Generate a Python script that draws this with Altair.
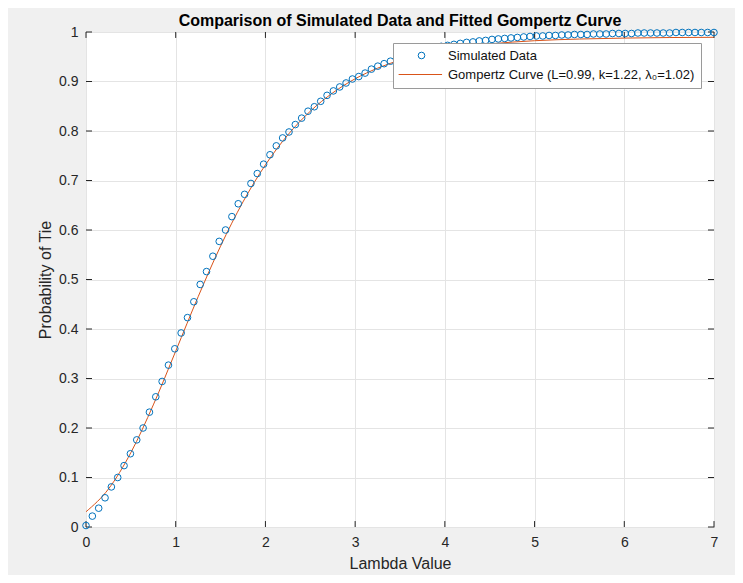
import altair as alt
import pandas as pd

# ---- data ----
lam_sim = [
    0.0, 0.0707, 0.1414, 0.2121, 0.2828, 0.3535, 0.4242, 0.4949, 0.5657, 0.6364,
    0.7071, 0.7778, 0.8485, 0.9192, 0.9899, 1.0606, 1.1313, 1.2020, 1.2727, 1.3434,
    1.4141, 1.4848, 1.5556, 1.6263, 1.6970, 1.7677, 1.8384, 1.9091, 1.9798, 2.0505,
    2.1212, 2.1919, 2.2626, 2.3333, 2.4040, 2.4747, 2.5455, 2.6162, 2.6869, 2.7576,
    2.8283, 2.8990, 2.9697, 3.0404, 3.1111, 3.1818, 3.2525, 3.3232, 3.3939, 3.4646,
    3.5354, 3.6061, 3.6768, 3.7475, 3.8182, 3.8889, 3.9596, 4.0303, 4.1010, 4.1717,
    4.2424, 4.3131, 4.3838, 4.4545, 4.5253, 4.5960, 4.6667, 4.7374, 4.8081, 4.8788,
    4.9495, 5.0202, 5.0909, 5.1616, 5.2323, 5.3030, 5.3737, 5.4444, 5.5152, 5.5859,
    5.6566, 5.7273, 5.7980, 5.8687, 5.9394, 6.0101, 6.0808, 6.1515, 6.2222, 6.2929,
    6.3636, 6.4343, 6.5051, 6.5758, 6.6465, 6.7172, 6.7879, 6.8586, 6.9293, 7.0,
]
p_sim = [
    0.003, 0.022, 0.038, 0.059, 0.081, 0.100, 0.124, 0.148, 0.176, 0.200,
    0.232, 0.263, 0.294, 0.327, 0.360, 0.392, 0.423, 0.455, 0.490, 0.516,
    0.547, 0.577, 0.600, 0.627, 0.653, 0.672, 0.694, 0.714, 0.733, 0.752,
    0.770, 0.786, 0.798, 0.813, 0.826, 0.840, 0.849, 0.860, 0.872, 0.881,
    0.889, 0.897, 0.905, 0.910, 0.917, 0.925, 0.931, 0.936, 0.941, 0.946,
    0.950, 0.954, 0.958, 0.962, 0.965, 0.968, 0.971, 0.973, 0.975, 0.977,
    0.979, 0.980, 0.982, 0.983, 0.985, 0.986, 0.987, 0.988, 0.989, 0.990,
    0.991, 0.992, 0.992, 0.993, 0.993, 0.994, 0.994, 0.995, 0.995, 0.995,
    0.996, 0.996, 0.996, 0.997, 0.997, 0.997, 0.997, 0.998, 0.998, 0.998,
    0.998, 0.998, 0.998, 0.999, 0.999, 0.999, 0.999, 0.999, 0.999, 0.999,
]
lam_fit = [0.0, 0.25, 0.5, 0.75, 1.0, 1.25, 1.5, 1.75, 2.0, 2.25, 2.5, 2.75, 3.0,
           3.25, 3.5, 3.75, 4.0, 4.25, 4.5, 4.75, 5.0, 5.5, 6.0, 6.5, 7.0]
p_fit = [0.0308, 0.0767, 0.1502, 0.2466, 0.3553, 0.4652, 0.5674, 0.6568, 0.7316,
         0.7921, 0.8399, 0.8770, 0.9055, 0.9269, 0.9432, 0.9553, 0.9643, 0.9709,
         0.9760, 0.9796, 0.9824, 0.9858, 0.9877, 0.9888, 0.9893]
x_ticks = [0, 1, 2, 3, 4, 5, 6, 7]
y_ticks = [0, 0.1, 0.2, 0.3, 0.4, 0.5, 0.6, 0.7, 0.8, 0.9, 1]
series_names = ["Simulated Data", "Gompertz Curve (L=0.99, k=1.22, \u03bb\u2080=1.02)"]
series_colors = ["#0072BD", "#D95319"]
title_text = "Comparison of Simulated Data and Fitted Gompertz Curve"

FONT = "Liberation Sans"
TXT = "#262626"

sim_df = pd.DataFrame({"lam": lam_sim, "p": p_sim, "series": series_names[0]})
fit_df = pd.DataFrame({"lam": lam_fit, "p": p_fit})

xs = alt.Scale(domain=[0, 7], nice=False, zero=False)
ys = alt.Scale(domain=[0, 1], nice=False, zero=False)

x_axis = alt.Axis(values=x_ticks, format="~g", title="Lambda Value", grid=True,
                  gridColor="#e4e4e4", domain=False, ticks=False, tickSize=0,
                  labelFlush=False, labelPadding=8, labelFontSize=14,
                  labelColor=TXT, labelFont=FONT,
                  titleFontSize=16, titleFontWeight="normal", titleColor=TXT,
                  titleFont=FONT, titleY=36, titleBaseline="middle")
y_axis = alt.Axis(values=y_ticks, format="~g", title="Probability of Tie", grid=True,
                  gridColor="#e4e4e4", domain=False, ticks=False, tickSize=0,
                  labelFlush=False, labelPadding=8, labelFontSize=14,
                  labelColor=TXT, labelFont=FONT,
                  titleFontSize=16, titleFontWeight="normal", titleColor=TXT,
                  titleFont=FONT, titleX=-41, titleBaseline="middle")

line = alt.Chart(fit_df).mark_line(color=series_colors[1], strokeWidth=1,
                                   interpolate="monotone").encode(
    x=alt.X("lam:Q", scale=xs, axis=x_axis),
    y=alt.Y("p:Q", scale=ys, axis=y_axis),
)

legend_common = dict(title=None, orient="none", legendX=307, legendY=11)
points = alt.Chart(sim_df).mark_point(filled=False, size=44, strokeWidth=1,
                                      opacity=1).encode(
    x=alt.X("lam:Q", scale=xs),
    y=alt.Y("p:Q", scale=ys),
    color=alt.Color("series:N",
                    scale=alt.Scale(domain=series_names, range=series_colors),
                    legend=alt.Legend(fillColor="white",
                                      strokeColor="#9a9a9a", padding=6,
                                      rowPadding=5, symbolSize=44,
                                      symbolStrokeWidth=1, symbolOffset=16,
                                      labelOffset=20, labelFontSize=13,
                                      labelFont=FONT, labelColor="#111111",
                                      labelLimit=400, cornerRadius=0,
                                      **legend_common)),
    shape=alt.Shape("series:N",
                    scale=alt.Scale(domain=series_names,
                                    range=["circle", "M-6.9,0L6.2,0"]),
                    legend=alt.Legend(**legend_common)),
)

# inward tick marks on all four sides (MATLAB style)
xt_df = pd.DataFrame({"v": x_ticks})
yt_df = pd.DataFrame({"v": y_ticks})
tick_len_y = 0.012
tick_len_x = 0.067
tick_style = dict(color=TXT, strokeWidth=1)
xt_bottom = alt.Chart(xt_df).mark_rule(**tick_style).encode(
    x=alt.X("v:Q", scale=xs), y=alt.datum(0, scale=ys), y2=alt.datum(tick_len_y))
xt_top = alt.Chart(xt_df).mark_rule(**tick_style).encode(
    x=alt.X("v:Q", scale=xs), y=alt.datum(1 - tick_len_y, scale=ys), y2=alt.datum(1))
yt_left = alt.Chart(yt_df).mark_rule(**tick_style).encode(
    y=alt.Y("v:Q", scale=ys), x=alt.datum(0, scale=xs), x2=alt.datum(tick_len_x))
yt_right = alt.Chart(yt_df).mark_rule(**tick_style).encode(
    y=alt.Y("v:Q", scale=ys), x=alt.datum(7 - tick_len_x, scale=xs), x2=alt.datum(7))

chart = alt.layer(line, xt_bottom, xt_top, yt_left, yt_right, points).properties(
    width=628, height=495,
    title=alt.TitleParams(title_text, fontSize=16, fontWeight="bold", font=FONT,
                          color="#000000", anchor="middle", frame="group",
                          offset=3, dy=7),
    padding={"left": 78, "top": 24, "right": 21, "bottom": 48},
    autosize=alt.AutoSizeParams(type="none"),
    background="#f0f0f0",
).configure_view(stroke=TXT, strokeWidth=1, fill="white")

chart.save("out.html", embed_options={"renderer": "svg", "actions": False})
